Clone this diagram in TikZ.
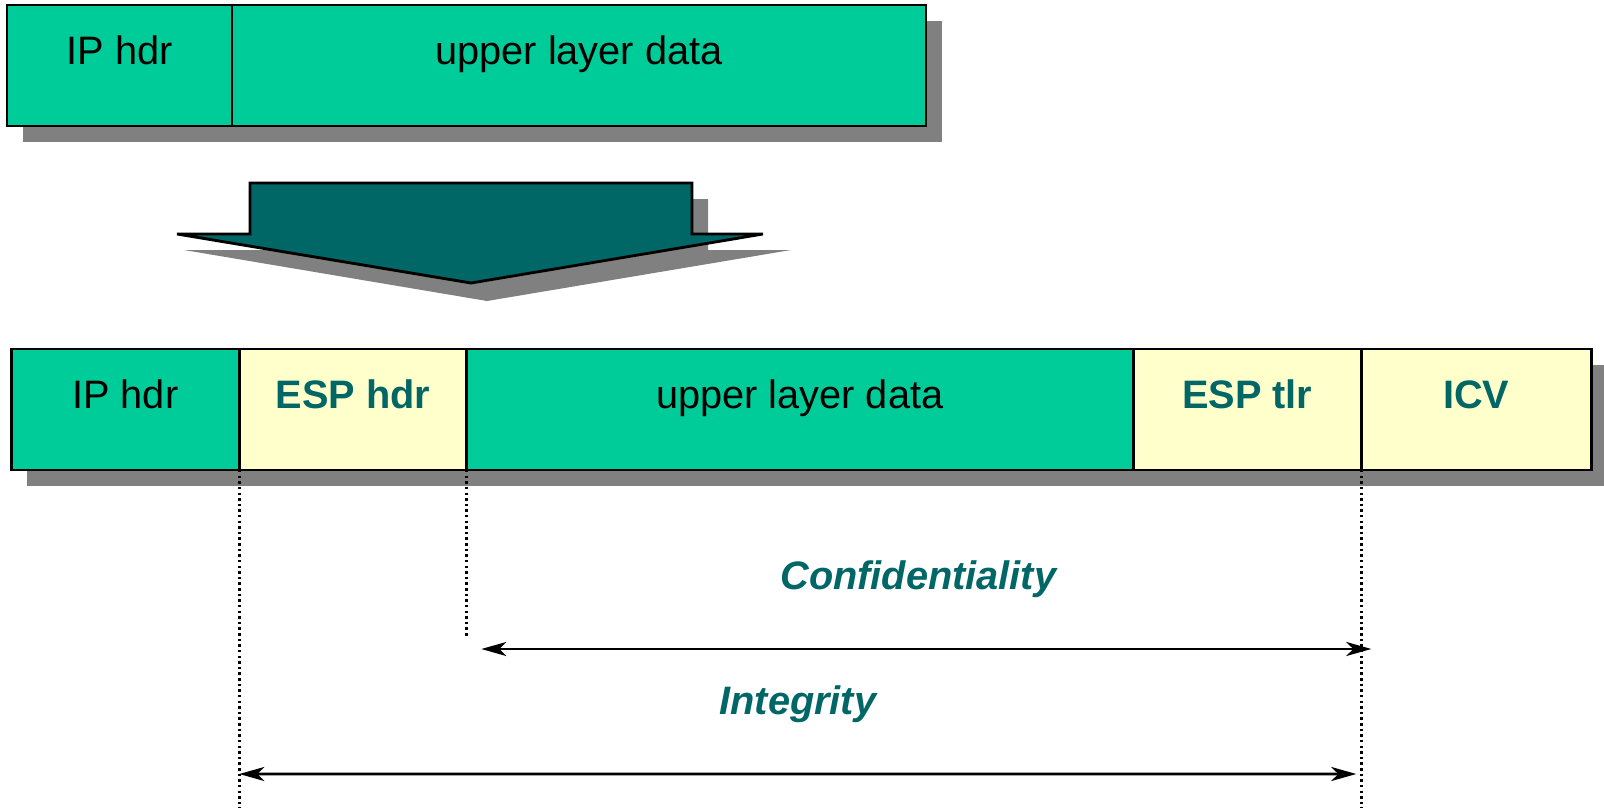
\documentclass[tikz,border=0pt]{standalone}
\usepackage{fontspec}
\setmainfont{Liberation Sans}
\usetikzlibrary{positioning,arrows.meta,backgrounds}
\definecolor{espgreen}{HTML}{00CC99}
\definecolor{espyellow}{HTML}{FFFFCC}
\definecolor{espteal}{HTML}{006666}
\definecolor{espshadow}{HTML}{808080}
\tikzset{
  field/.style={draw,line width=0.8pt,fill=espgreen,minimum height=1.21cm,inner sep=0pt,outer sep=0pt,
    text height=7.8pt,text depth=8.5pt,font=\fontsize{11.3}{13}\selectfont},
  espfield/.style={field,fill=espyellow,text=espteal,font=\fontsize{11.3}{13}\selectfont\bfseries},
  guide/.style={line width=0.7pt,dash pattern=on 0.7pt off 0.9pt},
  span/.style={<->,>={Stealth[length=0.25cm,width=0.14cm,inset=0.07cm]},line width=0.8pt},
  spanlabel/.style={text=espteal,font=\fontsize{11.3}{13}\selectfont\bfseries\itshape}
}
\begin{document}
\begin{tikzpicture}
        \useasboundingbox (0,0) rectangle (16.04,-8.08);
        % original packet
        \node[field,minimum width=2.25cm,anchor=north west] (iphdrA) at (0.07,-0.05) {IP hdr};
        \node[field,minimum width=6.94cm,right=0pt of iphdrA] (dataA) {upper layer data};
        % big arrow, its shadow a little wider
        \fill[espshadow] (2.66,-1.99) -- (7.08,-1.99) -- (7.08,-2.50) -- (7.91,-2.50) -- (4.87,-3.01) -- (1.84,-2.50) -- (2.66,-2.50) -- cycle;
        \draw[line width=0.8pt,fill=espteal] (2.50,-1.83) -- (6.92,-1.83) -- (6.92,-2.34) -- (7.63,-2.34) -- (4.71,-2.83) -- (1.77,-2.34) -- (2.50,-2.34) -- cycle;
        % ESP packet
        \node[field,minimum width=2.28cm,anchor=north west] (iphdr) at (0.113,-3.49) {IP hdr};
        \node[espfield,minimum width=2.27cm,right=0pt of iphdr] (esphdr) {ESP hdr};
        \node[field,minimum width=6.67cm,right=0pt of esphdr] (data) {upper layer data};
        \node[espfield,minimum width=2.28cm,right=0pt of data] (esptlr) {ESP tlr};
        \node[espfield,minimum width=2.30cm,right=0pt of esptlr] (icv) {ICV};
        \begin{scope}[on background layer]
            \fill[espshadow] ([shift={(0.16,-0.16)}]iphdrA.north west) rectangle ([shift={(0.16,-0.16)}]dataA.south east);
            \fill[espshadow] ([shift={(0.16,-0.16)}]iphdr.north west) rectangle ([shift={(0.16,-0.16)}]icv.south east);
        \end{scope}
        % coverage
        \coordinate (confL) at ([shift={(0.15,-1.79)}]data.south west);
        \coordinate (confR) at ([shift={(0.10,-1.79)}]esptlr.south east);
        \coordinate (intL) at ([yshift=-3.04cm]esphdr.south west);
        \coordinate (intR) at ([shift={(-0.05,-3.04)}]esptlr.south east);
        \draw[guide] (esphdr.south west) -- ++(0,-3.38);
        \draw[guide] (data.south west) -- ++(0,-1.66);
        \draw[guide] (esptlr.south east) -- ++(0,-3.38);
        \draw[span] (confL) -- node[spanlabel,xshift=-0.08cm,yshift=0.7cm] (conf) {Confidentiality} (confR);
        \draw[span] (intL) -- node[spanlabel,yshift=0.7cm] (integ) {Integrity} (intR);
    \end{tikzpicture}
\end{document}
